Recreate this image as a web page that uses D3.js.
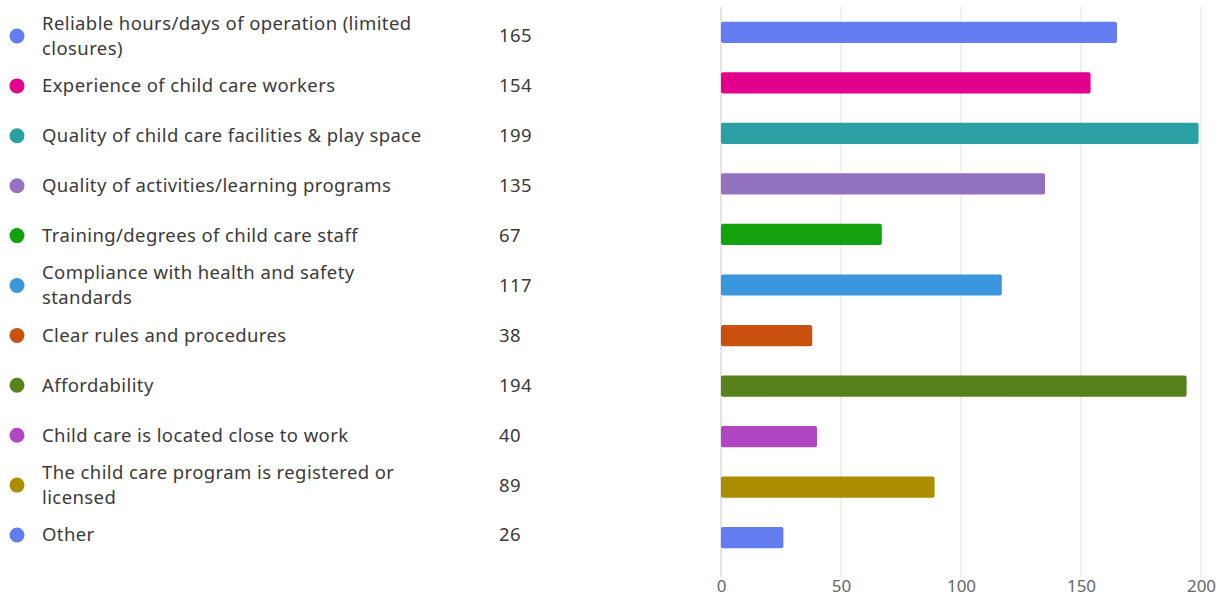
<!DOCTYPE html>
<html>
<head>
<meta charset="utf-8">
<script src="https://cdn.jsdelivr.net/npm/d3@7"></script>
<style>
  body { margin: 0; background: #fff; }
  svg text { font-family: "Noto Sans", "Open Sans", sans-serif; }
</style>
</head>
<body>
<svg id="chart" width="1221" height="605"></svg>
<script>
// labels, "\n" marks where the original wraps
const categories = [
  "Reliable hours/days of operation (limited\nclosures)",
  "Experience of child care workers",
  "Quality of child care facilities & play space",
  "Quality of activities/learning programs",
  "Training/degrees of child care staff",
  "Compliance with health and safety\nstandards",
  "Clear rules and procedures",
  "Affordability",
  "Child care is located close to work",
  "The child care program is registered or\nlicensed",
  "Other"
]
const counts = [165, 154, 199, 135, 67, 117, 38, 194, 40, 89, 26]
const colors = ["#637cef", "#e3008c", "#2aa0a4", "#9373c0", "#13a10e", "#3a96dd",
                "#ca5010", "#57811b", "#b146c2", "#ae8c00", "#637cef"]
const xTicks = [0, 50, 100, 150, 200]

const svg = d3.select("#chart")

const x = d3.scaleLinear().domain([0, 200]).range([721, 1201])
const y = d3.scaleBand().domain(categories).range([7, 563]).paddingInner(0.58).paddingOuter(0.29)
// legend rows sit on a slightly tighter grid than the bars
const yl = d3.scalePoint().domain(categories).range([36, 535])

// gridlines
svg.append("g")
  .selectAll("line")
  .data(xTicks)
  .join("line")
  .attr("x1", d => x(d)).attr("x2", d => x(d))
  .attr("y1", 7).attr("y2", 577)
  .attr("stroke", d => d === 0 ? "#c8c8c8" : "#e1e1e1")
  .attr("stroke-width", 1)

// x axis labels
const xAxis = d3.axisBottom(x).tickValues(xTicks).tickSize(0).tickPadding(0)
svg.append("g")
  .attr("transform", "translate(0,580)")
  .call(xAxis)
  .call(g => g.select(".domain").remove())
  .call(g => g.selectAll("text")
    .attr("dy", "0.71em")
    .attr("fill", "#666")
    .style("font-size", "17px"))

// bars
svg.append("g")
  .selectAll("rect")
  .data(categories)
  .join("rect")
  .attr("x", x(0))
  .attr("y", d => y(d))
  .attr("width", (d, i) => x(counts[i]) - x(0))
  .attr("height", y.bandwidth())
  .attr("rx", 2)
  .attr("fill", (d, i) => colors[i])

// legend
const legend = svg.append("g")
  .selectAll("g")
  .data(categories)
  .join("g")
  .attr("transform", d => `translate(0,${yl(d)})`)

legend.append("circle")
  .attr("cx", 17).attr("cy", 0).attr("r", 7.5)
  .attr("fill", (d, i) => colors[i])

legend.append("text")
  .attr("x", 42)
  .attr("fill", "#3b3a39")
  .style("font-size", "18.5px")
  .style("letter-spacing", "0.4px")
  .each(function(d){
    const lines = d.split("\n")
    const t = d3.select(this)
    lines.forEach((ln, j) => {
      t.append("tspan")
        .attr("x", 42)
        .attr("y", (j - (lines.length - 1) / 2) * 25)
        .attr("dy", "0.35em")
        .text(ln)
    })
  })

legend.append("text")
  .attr("x", 499)
  .attr("dy", "0.35em")
  .attr("fill", "#3b3a39")
  .style("font-size", "18.5px")
  .style("letter-spacing", "0.4px")
  .text((d, i) => counts[i])
</script>
</body>
</html>
